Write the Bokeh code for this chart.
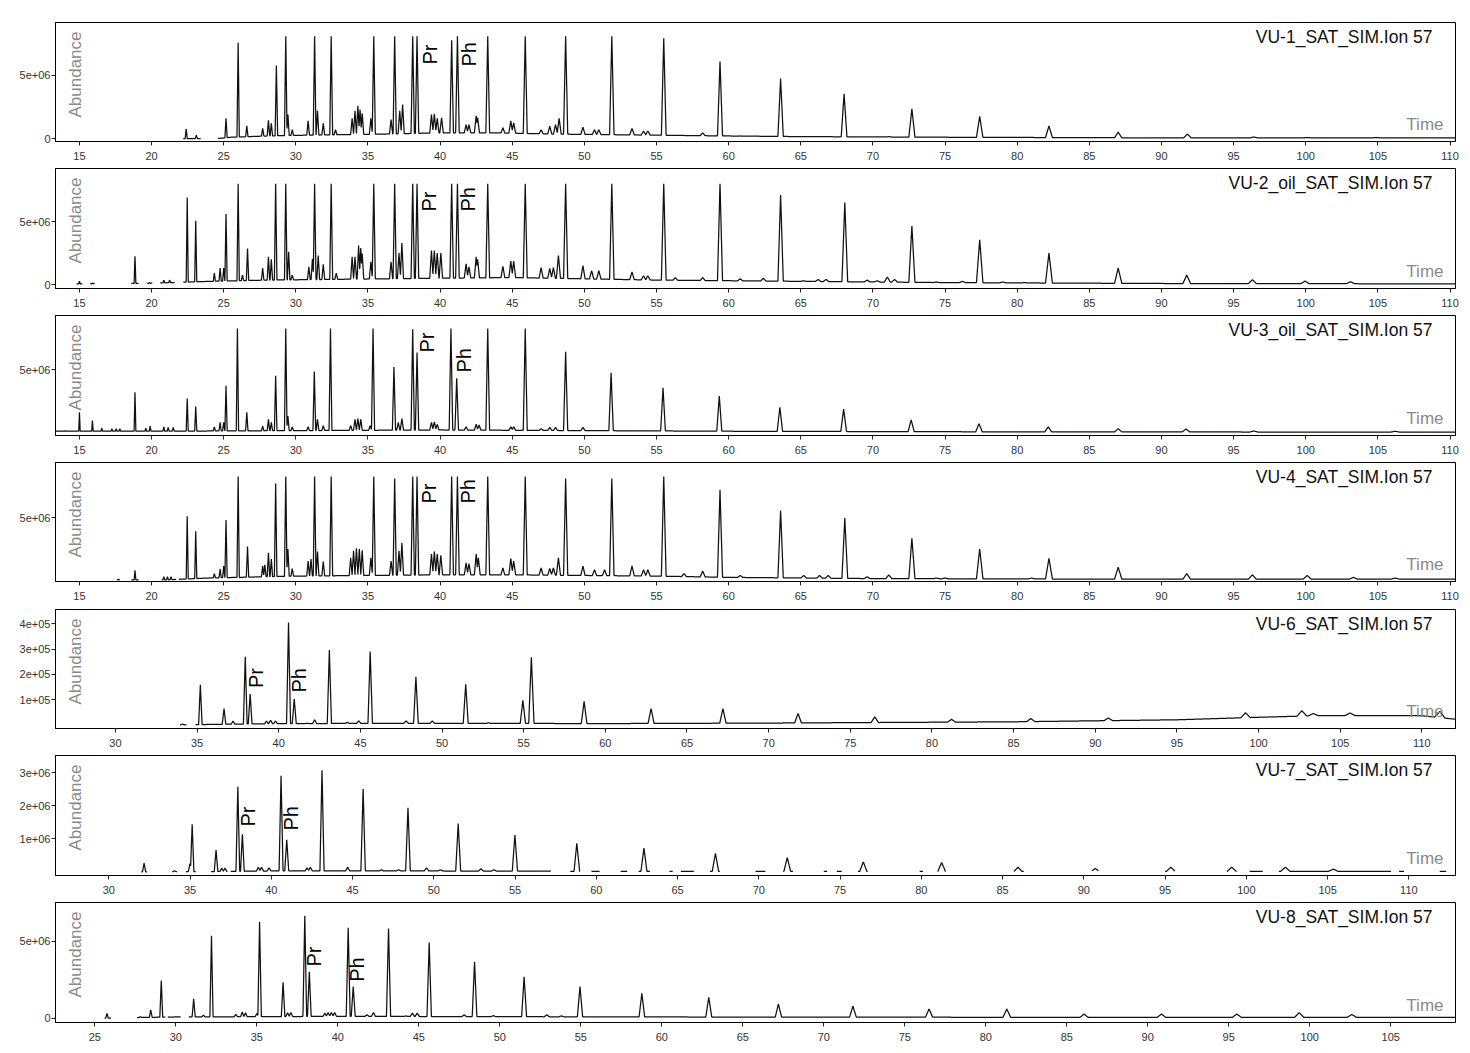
import numpy as np
from bokeh.plotting import figure
from bokeh.layouts import column
from bokeh.models import FixedTicker, Label, Range1d
from bokeh.embed import file_html
from bokeh.resources import INLINE

# ---------------- data (retention time in min, abundance) ----------------
# VU-1  (abundance in millions)
vu1_peak_t = [22.4, 23.1, 25.16, 26.0, 26.6, 27.7, 28.1, 28.3, 28.65, 29.3, 29.45, 29.75, 30.85, 31.3, 31.5, 31.9,
              32.45, 32.75, 33.9, 34.1, 34.3, 34.45, 34.6, 35.2, 35.4, 36.6, 36.85, 37.2, 37.4, 38.1, 38.4, 39.4,
              39.6, 39.8, 40.1, 40.8, 41.2, 41.8, 42.0, 42.5, 42.6, 43.3, 44.35, 44.9, 45.1, 45.9, 47.0, 47.6,
              48.0, 48.25, 48.7, 49.9, 50.7, 51.0, 51.9, 53.3, 54.1, 54.4, 55.5, 58.2, 59.4, 60.8, 63.6, 65.2,
              66.3, 66.9, 68.0, 69.6, 71.1, 72.7, 75.0, 77.4, 82.2, 87.0, 91.8, 96.4, 100.1, 104.9]
vu1_peak_M = [0.77, 0.26, 1.6, 7.6, 1.0, 0.8, 1.45, 1.2, 5.8, 8.12, 1.9, 0.7, 1.4, 8.12, 2.2, 1.2,
              8.12, 0.7, 1.6, 2.2, 2.6, 2.3, 2.0, 1.6, 8.12, 1.5, 8.12, 2.2, 2.7, 8.12, 8.12, 1.9,
              1.95, 1.6, 1.65, 7.8, 8.12, 1.1, 1.1, 1.8, 1.65, 8.12, 0.85, 1.4, 1.25, 8.12, 0.7, 0.97,
              1.1, 1.6, 8.12, 0.9, 0.7, 0.7, 8.12, 0.8, 0.6, 0.6, 7.95, 0.45, 6.1, 0.2, 4.75, 0.15,
              0.15, 0.15, 3.55, 0.1, 0.15, 2.35, 0.12, 1.75, 1.0, 0.5, 0.35, 0.12, 0.08, 0.08]
vu1_base_t = [22.2, 24.6, 25.5, 28, 30, 33, 36, 40, 44, 48, 52, 56, 60, 65, 75, 90, 110.4]
vu1_base_M = [0.0, 0.0, 0.1, 0.2, 0.25, 0.3, 0.35, 0.45, 0.45, 0.35, 0.3, 0.25, 0.2, 0.15, 0.1, 0.05, 0.05]
vu1_windows = [(22.2, 23.4), (24.6, 110.4)]

# VU-2_oil (millions)
vu2_peak_t = [15.0, 15.9, 18.85, 19.85, 20.85, 21.25, 22.47, 23.06, 24.35, 24.75, 25.0, 25.16, 26.0, 26.3, 26.65,
              27.7, 28.1, 28.3, 28.6, 29.3, 29.5, 29.75, 30.9, 31.15, 31.3, 31.55, 31.9, 32.45, 32.8, 33.9, 34.1,
              34.35, 34.5, 34.6, 35.2, 35.4, 36.6, 36.85, 37.15, 37.35, 38.1, 38.4, 39.4, 39.6, 39.8, 40.05, 40.8,
              41.2, 41.8, 42.0, 42.5, 42.6, 43.3, 44.35, 44.9, 45.1, 45.9, 47.0, 47.6, 47.85, 48.2, 48.7, 49.9,
              50.5, 51.0, 51.9, 53.3, 54.1, 54.4, 55.5, 56.3, 58.2, 59.4, 60.8, 62.4, 63.6, 65.2, 66.2, 66.75,
              68.05, 69.6, 70.3, 71.0, 71.5, 72.7, 74.4, 76.2, 77.4, 79.0, 80.5, 82.2, 85.3, 87.0, 91.75, 96.3,
              99.95, 103.1]
vu2_peak_M = [0.26, 0.12, 2.25, 0.15, 0.35, 0.35, 6.9, 5.05, 0.9, 1.3, 1.3, 5.6, 8.0, 0.75, 2.85,
              1.3, 2.2, 2.0, 8.0, 8.0, 2.6, 0.75, 1.4, 2.05, 8.0, 2.3, 1.6, 8.0, 0.9, 2.2, 2.2,
              3.1, 2.9, 2.45, 1.8, 8.0, 1.8, 8.0, 2.5, 3.3, 8.0, 8.0, 2.7, 2.7, 2.5, 2.5, 8.0,
              8.0, 1.65, 1.4, 2.2, 2.0, 8.0, 1.45, 1.85, 1.85, 8.0, 1.35, 1.27, 1.35, 2.3, 8.0, 1.5,
              1.1, 1.1, 8.0, 1.0, 0.7, 0.7, 8.0, 0.55, 0.55, 8.0, 0.45, 0.5, 7.1, 0.3, 0.4, 0.4,
              6.5, 0.35, 0.3, 0.6, 0.4, 4.65, 0.2, 0.25, 3.55, 0.2, 0.15, 2.5, 0.1, 1.3, 0.75, 0.38,
              0.27, 0.22]
vu2_base_t = [14.8, 20, 24, 28, 32, 36, 40, 45, 50, 55, 60, 65, 75, 90, 110.4]
vu2_base_M = [0.05, 0.1, 0.25, 0.35, 0.4, 0.45, 0.5, 0.55, 0.45, 0.35, 0.3, 0.25, 0.15, 0.08, 0.05]
vu2_windows = [(14.8, 15.2), (15.75, 16.05), (18.6, 19.1), (19.7, 20.05), (20.6, 21.6), (22.2, 110.4)]

# VU-3_oil (millions)
vu3_peak_t = [13.55, 14.0, 15.0, 15.9, 16.55, 17.25, 17.55, 17.8, 18.85, 19.6, 19.9, 20.85, 21.15, 21.5, 22.47,
              23.06, 24.35, 24.75, 25.0, 25.16, 25.95, 26.6, 27.7, 28.1, 28.3, 28.6, 29.3, 29.45, 29.75, 30.85,
              31.28, 31.5, 31.9, 32.4, 33.8, 34.1, 34.3, 34.5, 35.15, 35.35, 36.8, 37.1, 37.35, 38.1, 38.4,
              39.4, 39.6, 39.8, 40.75, 41.15, 41.8, 42.5, 42.7, 43.3, 44.9, 45.1, 45.9, 47.0, 47.6, 48.0,
              48.7, 49.9, 51.85, 55.45, 59.35, 63.55, 67.97, 72.65, 77.35, 82.15, 87.0, 91.7, 96.4, 106.2]
vu3_peak_M = [0.1, 0.15, 1.6, 0.95, 0.35, 0.3, 0.3, 0.3, 3.2, 0.35, 0.5, 0.45, 0.4, 0.4, 2.7,
              2.06, 0.45, 0.8, 0.8, 3.7, 8.25, 1.6, 0.5, 1.05, 0.8, 4.5, 8.25, 1.3, 0.45, 0.45,
              4.85, 1.05, 0.55, 8.25, 0.55, 1.05, 1.1, 1.05, 0.55, 8.25, 5.2, 0.8, 1.1, 8.2, 6.35,
              0.8, 0.85, 0.65, 8.25, 4.3, 0.45, 0.65, 0.6, 8.25, 0.45, 0.45, 8.25, 0.3, 0.4, 0.4,
              6.4, 0.4, 4.75, 3.55, 2.9, 2.0, 1.85, 1.0, 0.7, 0.45, 0.3, 0.28, 0.12, 0.1]
vu3_base_t = [13.34, 20, 30, 40, 50, 60, 80, 110.4]
vu3_base_M = [0.1, 0.1, 0.15, 0.2, 0.15, 0.1, 0.05, 0.03]
vu3_windows = [(13.34, 110.4)]

# VU-4 (millions)
vu4_peak_t = [17.7, 18.85, 20.85, 21.1, 21.35, 22.47, 23.06, 24.35, 24.75, 25.0, 25.16, 26.0, 26.65, 27.7, 27.85,
              28.1, 28.3, 28.6, 29.3, 29.45, 29.75, 30.85, 31.05, 31.3, 31.5, 31.9, 32.45, 33.8, 34.0, 34.2,
              34.4, 34.6, 35.2, 35.4, 36.6, 36.85, 37.15, 37.35, 38.1, 38.4, 39.4, 39.6, 39.8, 40.05, 40.8,
              41.2, 41.8, 42.0, 42.5, 42.65, 43.3, 44.35, 44.9, 45.1, 45.9, 47.0, 47.6, 47.85, 48.2, 48.7,
              49.9, 50.7, 51.4, 51.9, 53.3, 54.1, 54.4, 55.5, 56.9, 58.2, 59.4, 60.8, 63.6, 65.2, 66.3,
              66.9, 68.05, 69.6, 71.1, 72.7, 74.4, 75.0, 77.4, 81.0, 82.2, 87.0, 91.75, 96.3, 100.1, 103.3, 106.2]
vu4_peak_M = [0.1, 0.8, 0.3, 0.3, 0.3, 5.1, 3.9, 0.55, 0.9, 1.15, 4.8, 8.25, 2.7, 1.15, 1.25,
              2.2, 1.7, 7.7, 8.25, 2.5, 0.95, 1.55, 1.7, 8.25, 2.3, 1.5, 8.25, 1.8, 2.35, 2.55,
              2.5, 2.4, 1.8, 8.25, 1.55, 8.1, 2.35, 3.0, 8.25, 8.25, 2.1, 2.3, 2.1, 2.0, 8.25,
              8.25, 1.4, 1.35, 2.1, 1.8, 8.25, 1.0, 1.75, 1.55, 8.25, 1.0, 0.95, 1.0, 1.8, 8.1,
              1.15, 0.85, 0.85, 8.1, 1.15, 0.85, 0.85, 8.25, 0.55, 0.75, 7.2, 0.4, 5.55, 0.4, 0.4,
              0.4, 4.95, 0.3, 0.45, 3.35, 0.2, 0.2, 2.5, 0.2, 1.75, 1.05, 0.55, 0.45, 0.4, 0.25, 0.2]
vu4_base_t = [17.5, 21, 24, 30, 40, 45, 50, 55, 60, 70, 90, 110.4]
vu4_base_M = [0.05, 0.05, 0.2, 0.35, 0.45, 0.45, 0.4, 0.35, 0.25, 0.15, 0.1, 0.1]
vu4_windows = [(17.6, 17.8), (18.6, 19.1), (20.7, 21.7), (21.9, 110.4)]

# VU-6 (abundance in units of 1e5)
vu6_peak_t = [34.1, 35.2, 36.65, 37.2, 37.95, 38.25, 39.25, 39.5, 39.8, 40.6, 40.95, 41.75, 42.2, 43.1, 44.2,
              44.9, 45.6, 47.8, 48.4, 49.4, 51.45, 52.85, 54.95, 55.47, 57.4, 58.7, 62.8, 67.2, 71.8, 76.5,
              81.2, 86.05, 90.8, 99.2, 102.65, 103.35, 105.6, 111.1]
vu6_peak_E5 = [0.03, 1.59, 0.64, 0.15, 2.7, 1.22, 0.15, 0.18, 0.15, 4.05, 1.02, 0.06, 0.2, 2.96, 0.1,
               0.16, 2.91, 0.16, 1.9, 0.15, 1.61, 0.08, 0.97, 2.68, 0.05, 0.93, 0.64, 0.64, 0.45, 0.32,
               0.22, 0.25, 0.27, 0.48, 0.56, 0.45, 0.47, 0.53]
vu6_base_t = [33.9, 40, 50, 60, 70, 85, 95, 100, 104, 110, 112.1]
vu6_base_E5 = [0.0, 0.05, 0.06, 0.05, 0.07, 0.12, 0.2, 0.3, 0.37, 0.36, 0.22]
vu6_windows = [(33.95, 34.35), (34.9, 112.1)]

# VU-7 (millions)
vu7_peak_t = [32.17, 34.05, 35.0, 35.13, 36.6, 36.95, 37.15, 37.94, 38.22, 39.2, 39.4, 39.86, 40.6, 40.95, 42.2,
              42.4, 43.12, 44.7, 45.65, 46.77, 47.83, 48.41, 49.55, 50.4, 51.5, 52.9, 53.7, 54.99, 58.8, 62.93,
              67.33, 71.75, 76.43, 81.25, 85.95, 90.7, 95.35, 99.1, 102.4, 105.35]
vu7_peak_M = [0.26, 0.03, 0.25, 1.44, 0.66, 0.11, 0.11, 2.58, 1.14, 0.14, 0.14, 0.12, 2.91, 0.97, 0.12,
              0.14, 3.08, 0.14, 2.51, 0.06, 0.06, 1.94, 0.12, 0.06, 1.46, 0.09, 0.06, 1.11, 0.86, 0.72,
              0.56, 0.43, 0.3, 0.28, 0.14, 0.1, 0.14, 0.14, 0.14, 0.08]
vu7_base_t = [32.0, 37, 40, 50, 60, 80, 100, 105, 112.9]
vu7_base_M = [0.0, 0.01, 0.025, 0.025, 0.015, 0.01, 0.01, 0.012, 0.01]
vu7_windows = [(32.0, 32.35), (33.9, 34.2), (34.75, 35.35), (36.3, 37.3), (37.5, 57.2), (58.4, 59.0),
               (59.7, 60.2), (61.5, 61.9), (62.6, 63.3), (64.5, 64.7), (65.2, 66.0), (67.0, 67.6),
               (69.8, 70.4), (71.5, 72.1), (74.0, 74.2), (74.8, 75.1), (76.1, 76.7), (79.9, 80.1),
               (81.0, 81.5), (85.7, 86.3), (90.5, 90.9), (95.0, 95.6), (98.8, 99.4), (100.2, 101.0),
               (102.0, 108.9), (109.4, 109.7), (111.9, 112.3)]

# VU-8 (millions)
vu8_peak_t = [25.75, 27.8, 28.45, 29.1, 31.1, 31.7, 32.2, 33.7, 34.1, 34.3, 35.0, 35.17, 36.62, 36.9, 37.1,
              37.96, 38.24, 39.2, 39.4, 39.6, 39.8, 40.64, 40.95, 41.8, 42.2, 43.13, 44.2, 44.6, 44.9, 45.64,
              46.8, 47.8, 48.44, 49.6, 51.5, 52.9, 53.8, 54.95, 58.77, 62.9, 67.2, 71.8, 76.5, 81.3, 86.07,
              90.85, 95.5, 99.35, 102.6]
vu8_peak_M = [0.32, 0.1, 0.54, 2.45, 1.26, 0.2, 5.37, 0.25, 0.4, 0.35, 0.3, 6.28, 2.34, 0.35, 0.37,
              6.67, 3.03, 0.33, 0.37, 0.37, 0.37, 5.89, 2.06, 0.22, 0.37, 5.84, 0.15, 0.33, 0.33, 4.93,
              0.1, 0.22, 3.68, 0.17, 2.7, 0.22, 0.15, 2.06, 1.62, 1.36, 0.92, 0.78, 0.6, 0.6, 0.27,
              0.27, 0.27, 0.36, 0.24]
vu8_base_t = [25.5, 28, 30, 35, 40, 50, 60, 80, 109.0]
vu8_base_M = [0.0, 0.05, 0.08, 0.1, 0.12, 0.1, 0.08, 0.06, 0.05]
vu8_windows = [(25.6, 26.0), (27.6, 29.35), (29.5, 30.3), (30.8, 109.0)]

# Axis ticks and labels
ticks_15_110 = list(range(15, 111, 5))
ticks_30_110 = list(range(30, 111, 5))
ticks_25_105 = list(range(25, 106, 5))
yt_0_5e6 = [0, 5000000]
yl_0_5e6 = ["0", "5e+06"]
yt_5e6 = [5000000]
yl_5e6 = ["5e+06"]
yt_vu6 = [100000, 200000, 300000, 400000]
yl_vu6 = ["1e+05", "2e+05", "3e+05", "4e+05"]
yt_vu7 = [1000000, 2000000, 3000000]
yl_vu7 = ["1e+06", "2e+06", "3e+06"]

marker_text = ["Pr", "Ph"]
vu1_marker_t, vu1_marker_M = [39.27, 41.97], [5.87, 5.71]
vu2_marker_t, vu2_marker_M = [39.22, 41.9], [5.79, 5.79]
vu3_marker_t, vu3_marker_M = [39.08, 41.65], [6.35, 4.76]
vu4_marker_t, vu4_marker_M = [39.22, 41.9], [6.11, 6.11]
vu6_marker_t, vu6_marker_E5 = [38.63, 41.25], [1.46, 1.28]
vu7_marker_t, vu7_marker_M = [38.57, 41.21], [1.37, 1.25]
vu8_marker_t, vu8_marker_M = [38.52, 41.2], [3.37, 2.37]

# ---------------- rendering ----------------
FONT = "Liberation Sans"
FRAME_W = 1400
LEFT, RIGHT = 55, 7


def trace(peak_t, peak_h, base_t, base_h, windows, x0, x1):
    peak_t = np.asarray(peak_t, float)
    peak_h = np.asarray(peak_h, float)
    edges = np.array([e for w in windows for e in w])
    t = np.union1d(np.arange(x0, x1, 0.01), np.concatenate([peak_t, edges]))
    base = np.interp(t, base_t, base_h)
    sig = np.zeros_like(t)
    hw = np.maximum(0.045, 0.05 + 0.0028 * (peak_t - 15))
    for tk, hk, wk in zip(peak_t, peak_h, hw):
        amp = max(0.0, hk - np.interp(tk, base_t, base_h))
        sig = np.maximum(sig, amp * np.clip(1 - np.abs(t - tk) / wk, 0, None))
    y = base + sig
    inside = np.zeros_like(t, dtype=bool)
    for a, b in windows:
        inside |= (t >= a - 1e-9) & (t <= b + 1e-9)
    y = np.where(inside, y, np.nan)
    return t, y


def panel(name, peak_t, peak_h, base_t, base_h, windows, xr, yr, xticks, yticks, ylabels,
          mk_t, mk_y, frame_h, top, bottom=22):
    x0, x1 = xr
    y0, y1 = yr
    p = figure(width=LEFT + FRAME_W + RIGHT, height=top + frame_h + bottom,
               x_range=Range1d(x0, x1), y_range=Range1d(y0, y1),
               output_backend="svg", toolbar_location=None, title=None,
               min_border_left=LEFT, min_border_right=RIGHT,
               min_border_top=top, min_border_bottom=bottom)
    p.xgrid.visible = False
    p.ygrid.visible = False
    p.outline_line_color = "black"
    p.outline_line_width = 1
    p.background_fill_color = "white"
    p.border_fill_color = "white"

    t, y = trace(peak_t, peak_h, base_t, base_h, windows, x0, x1)
    p.line(t, y, line_color="#111111", line_width=1.25)

    for ax in (p.xaxis[0], p.yaxis[0]):
        ax.axis_line_color = "black"
        ax.major_tick_line_color = "#222222"
        ax.major_tick_out = 4
        ax.major_tick_in = 0
        ax.minor_tick_line_color = None
        ax.major_label_text_font = FONT
        ax.major_label_text_font_size = "11px"
        ax.major_label_text_color = "#333333"
    p.xaxis.ticker = FixedTicker(ticks=xticks)
    p.xaxis.major_label_standoff = 6
    p.yaxis.ticker = FixedTicker(ticks=yticks)
    p.yaxis.major_label_overrides = dict(zip(yticks, ylabels))
    p.yaxis.major_label_standoff = 1

    def fx(dx):
        return x0 + dx / FRAME_W * (x1 - x0)

    def fy(dy):
        return y0 + dy / frame_h * (y1 - y0)

    p.add_layout(Label(x=fx(FRAME_W - 23), y=fy(frame_h - 14), text=name, text_align="right",
                       text_baseline="middle", text_font=FONT, text_font_size="17.5px",
                       text_color="#111111"))
    p.add_layout(Label(x=fx(FRAME_W - 12), y=fy(17.5), text="Time", text_align="right",
                       text_baseline="middle", text_font=FONT, text_font_size="17px",
                       text_color="#8a8a8a"))
    p.add_layout(Label(x=fx(20), y=fy(frame_h - 52), text="Abundance", angle=np.pi / 2,
                       text_align="center", text_baseline="middle", text_font=FONT,
                       text_font_size="17px", text_color="#8a8a8a"))
    for txt, mt, my in zip(marker_text, mk_t, mk_y):
        p.add_layout(Label(x=mt, y=my, text=txt, angle=np.pi / 2, text_align="left",
                           text_baseline="middle", text_font=FONT, text_font_size="20px",
                           text_color="black"))
    return p


M = 1e6
E5 = 1e5
figs = [
    panel("VU-1_SAT_SIM.Ion 57", vu1_peak_t, np.array(vu1_peak_M) * M, vu1_base_t, np.array(vu1_base_M) * M,
          vu1_windows, (13.34, 110.38), (-0.238e6, 9.206e6), ticks_15_110, yt_0_5e6, yl_0_5e6,
          vu1_marker_t, np.array(vu1_marker_M) * M, 119, 22),
    panel("VU-2_oil_SAT_SIM.Ion 57", vu2_peak_t, np.array(vu2_peak_M) * M, vu2_base_t, np.array(vu2_base_M) * M,
          vu2_windows, (13.34, 110.38), (-0.317e6, 9.206e6), ticks_15_110, yt_0_5e6, yl_0_5e6,
          vu2_marker_t, np.array(vu2_marker_M) * M, 120, 5),
    panel("VU-3_oil_SAT_SIM.Ion 57", vu3_peak_t, np.array(vu3_peak_M) * M, vu3_base_t, np.array(vu3_base_M) * M,
          vu3_windows, (13.34, 110.38), (-0.238e6, 9.286e6), ticks_15_110, yt_5e6, yl_5e6,
          vu3_marker_t, np.array(vu3_marker_M) * M, 120, 5),
    panel("VU-4_SAT_SIM.Ion 57", vu4_peak_t, np.array(vu4_peak_M) * M, vu4_base_t, np.array(vu4_base_M) * M,
          vu4_windows, (13.34, 110.38), (-0.079e6, 9.365e6), ticks_15_110, yt_5e6, yl_5e6,
          vu4_marker_t, np.array(vu4_marker_M) * M, 119, 5),
    panel("VU-6_SAT_SIM.Ion 57", vu6_peak_t, np.array(vu6_peak_E5) * E5, vu6_base_t, np.array(vu6_base_E5) * E5,
          vu6_windows, (26.33, 112.06), (-1.45e4, 4.57e5), ticks_30_110, yt_vu6, yl_vu6,
          vu6_marker_t, np.array(vu6_marker_E5) * E5, 119, 6),
    panel("VU-7_SAT_SIM.Ion 57", vu7_peak_t, np.array(vu7_peak_M) * M, vu7_base_t, np.array(vu7_base_M) * M,
          vu7_windows, (26.72, 112.87), (-0.112e6, 3.524e6), ticks_30_110, yt_vu7, yl_vu7,
          vu7_marker_t, np.array(vu7_marker_M) * M, 120, 5),
    panel("VU-8_SAT_SIM.Ion 57", vu8_peak_t, np.array(vu8_peak_M) * M, vu8_base_t, np.array(vu8_base_M) * M,
          vu8_windows, (22.57, 109.0), (-0.28e6, 7.54e6), ticks_25_105, yt_0_5e6, yl_0_5e6,
          vu8_marker_t, np.array(vu8_marker_M) * M, 120, 5),
]

layout = column(*figs, spacing=0)
open("out.html", "w").write(file_html(layout, INLINE))
